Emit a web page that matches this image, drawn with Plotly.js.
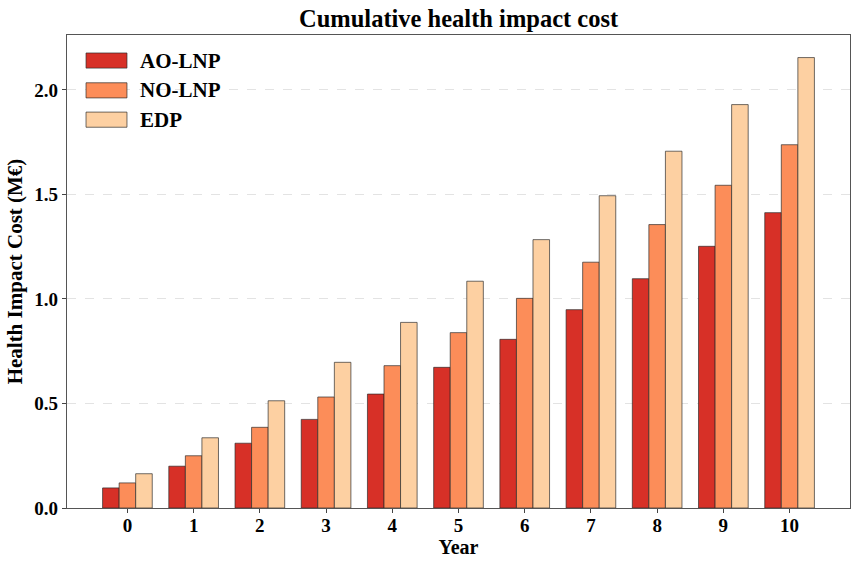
<!DOCTYPE html>
<html>
<head>
<meta charset="utf-8">
<script src="https://cdn.plot.ly/plotly-3.0.1.min.js"></script>
<style>
  html, body { margin: 0; padding: 0; background: #fff; }
  #chart { width: 862px; height: 561px; }
</style>
</head>
<body>
<div id="chart"></div>
<script>
// Cumulative health impact cost per scenario, in millions of euros
const years = [0, 1, 2, 3, 4, 5, 6, 7, 8, 9, 10];
const aoLnp = [0.096, 0.200, 0.310, 0.424, 0.545, 0.673, 0.807, 0.949, 1.097, 1.252, 1.413];
const noLnp = [0.120, 0.250, 0.386, 0.531, 0.681, 0.839, 1.003, 1.176, 1.356, 1.544, 1.738];
const edp   = [0.164, 0.336, 0.513, 0.697, 0.888, 1.085, 1.284, 1.494, 1.707, 1.930, 2.155];
const seriesNames = ['AO-LNP', 'NO-LNP', 'EDP'];
const seriesColors = ['#d73027', '#fc8d59', '#fdd0a2'];
const seriesValues = [aoLnp, noLnp, edp];

const FONT = 'Liberation Serif, Times New Roman, serif';
const barWidth = 0.25;
const offsets = [-0.375, -0.125, 0.125];

const traces = seriesValues.map((vals, i) => ({
  type: 'bar',
  name: seriesNames[i],
  x: years,
  y: vals,
  width: barWidth,
  offset: offsets[i],
  marker: {
    color: seriesColors[i],
    line: { color: 'rgba(40,40,40,0.75)', width: 0.9 }
  },
  showlegend: false,
  hoverinfo: 'x+y+name'
}));

// Legend drawn as patches + labels in the upper-left corner of the plot
const legendShapes = [];
const legendLabels = [];
const patchTop = [0.962, 0.899, 0.837];
seriesNames.forEach((name, i) => {
  legendShapes.push({
    type: 'rect', xref: 'paper', yref: 'paper',
    x0: 0.0243, x1: 0.0766, y0: patchTop[i] - 0.032, y1: patchTop[i],
    fillcolor: seriesColors[i],
    line: { color: 'rgba(40,40,40,0.75)', width: 0.9 }
  });
  legendLabels.push({
    xref: 'paper', yref: 'paper',
    x: 0.091, y: patchTop[i] - 0.016,
    xanchor: 'left', yanchor: 'middle',
    text: '<b>' + name + '</b>',
    showarrow: false,
    font: { family: FONT, size: 21, color: '#000' }
  });
});

const layout = {
  width: 862,
  height: 561,
  margin: { l: 67, r: 12, t: 35, b: 53 },
  paper_bgcolor: '#fff',
  plot_bgcolor: '#fff',
  font: { family: FONT, color: '#000' },
  title: {
    text: '<b>Cumulative health impact cost</b>',
    font: { family: FONT, size: 24.5, color: '#000' },
    x: 0.532, xanchor: 'center',
    y: 0.968, yanchor: 'middle'
  },
  xaxis: {
    range: [-0.9125, 10.9125],
    tickmode: 'array',
    tickvals: years,
    ticktext: years.map(v => '<b>' + v + '</b>'),
    tickfont: { family: FONT, size: 19, color: '#000' },
    ticks: 'outside', ticklen: 4, tickcolor: '#444', tickwidth: 1,
    ticklabelstandoff: -4,
    showline: true, linecolor: '#555', linewidth: 1.2, mirror: true,
    showgrid: false, zeroline: false,
    title: { text: '<b>Year</b>', font: { family: FONT, size: 20, color: '#000' }, standoff: 0 }
  },
  yaxis: {
    range: [0, 2.263],
    tickmode: 'array',
    tickvals: [0, 0.5, 1.0, 1.5, 2.0],
    ticktext: ['<b>0.0</b>', '<b>0.5</b>', '<b>1.0</b>', '<b>1.5</b>', '<b>2.0</b>'],
    tickfont: { family: FONT, size: 19, color: '#000' },
    ticks: 'outside', ticklen: 4, tickcolor: '#444', tickwidth: 1,
    showline: true, linecolor: '#555', linewidth: 1.2, mirror: true,
    showgrid: true, gridcolor: '#dcdcdc', griddash: 'dash', gridwidth: 0.8,
    zeroline: false,
    title: { text: '<b>Health Impact Cost (M€)</b>', font: { family: FONT, size: 21, color: '#000' }, standoff: 6 }
  },
  bargap: 0,
  shapes: legendShapes,
  annotations: legendLabels
};

Plotly.newPlot('chart', traces, layout, { displayModeBar: false, staticPlot: true });
</script>
</body>
</html>
